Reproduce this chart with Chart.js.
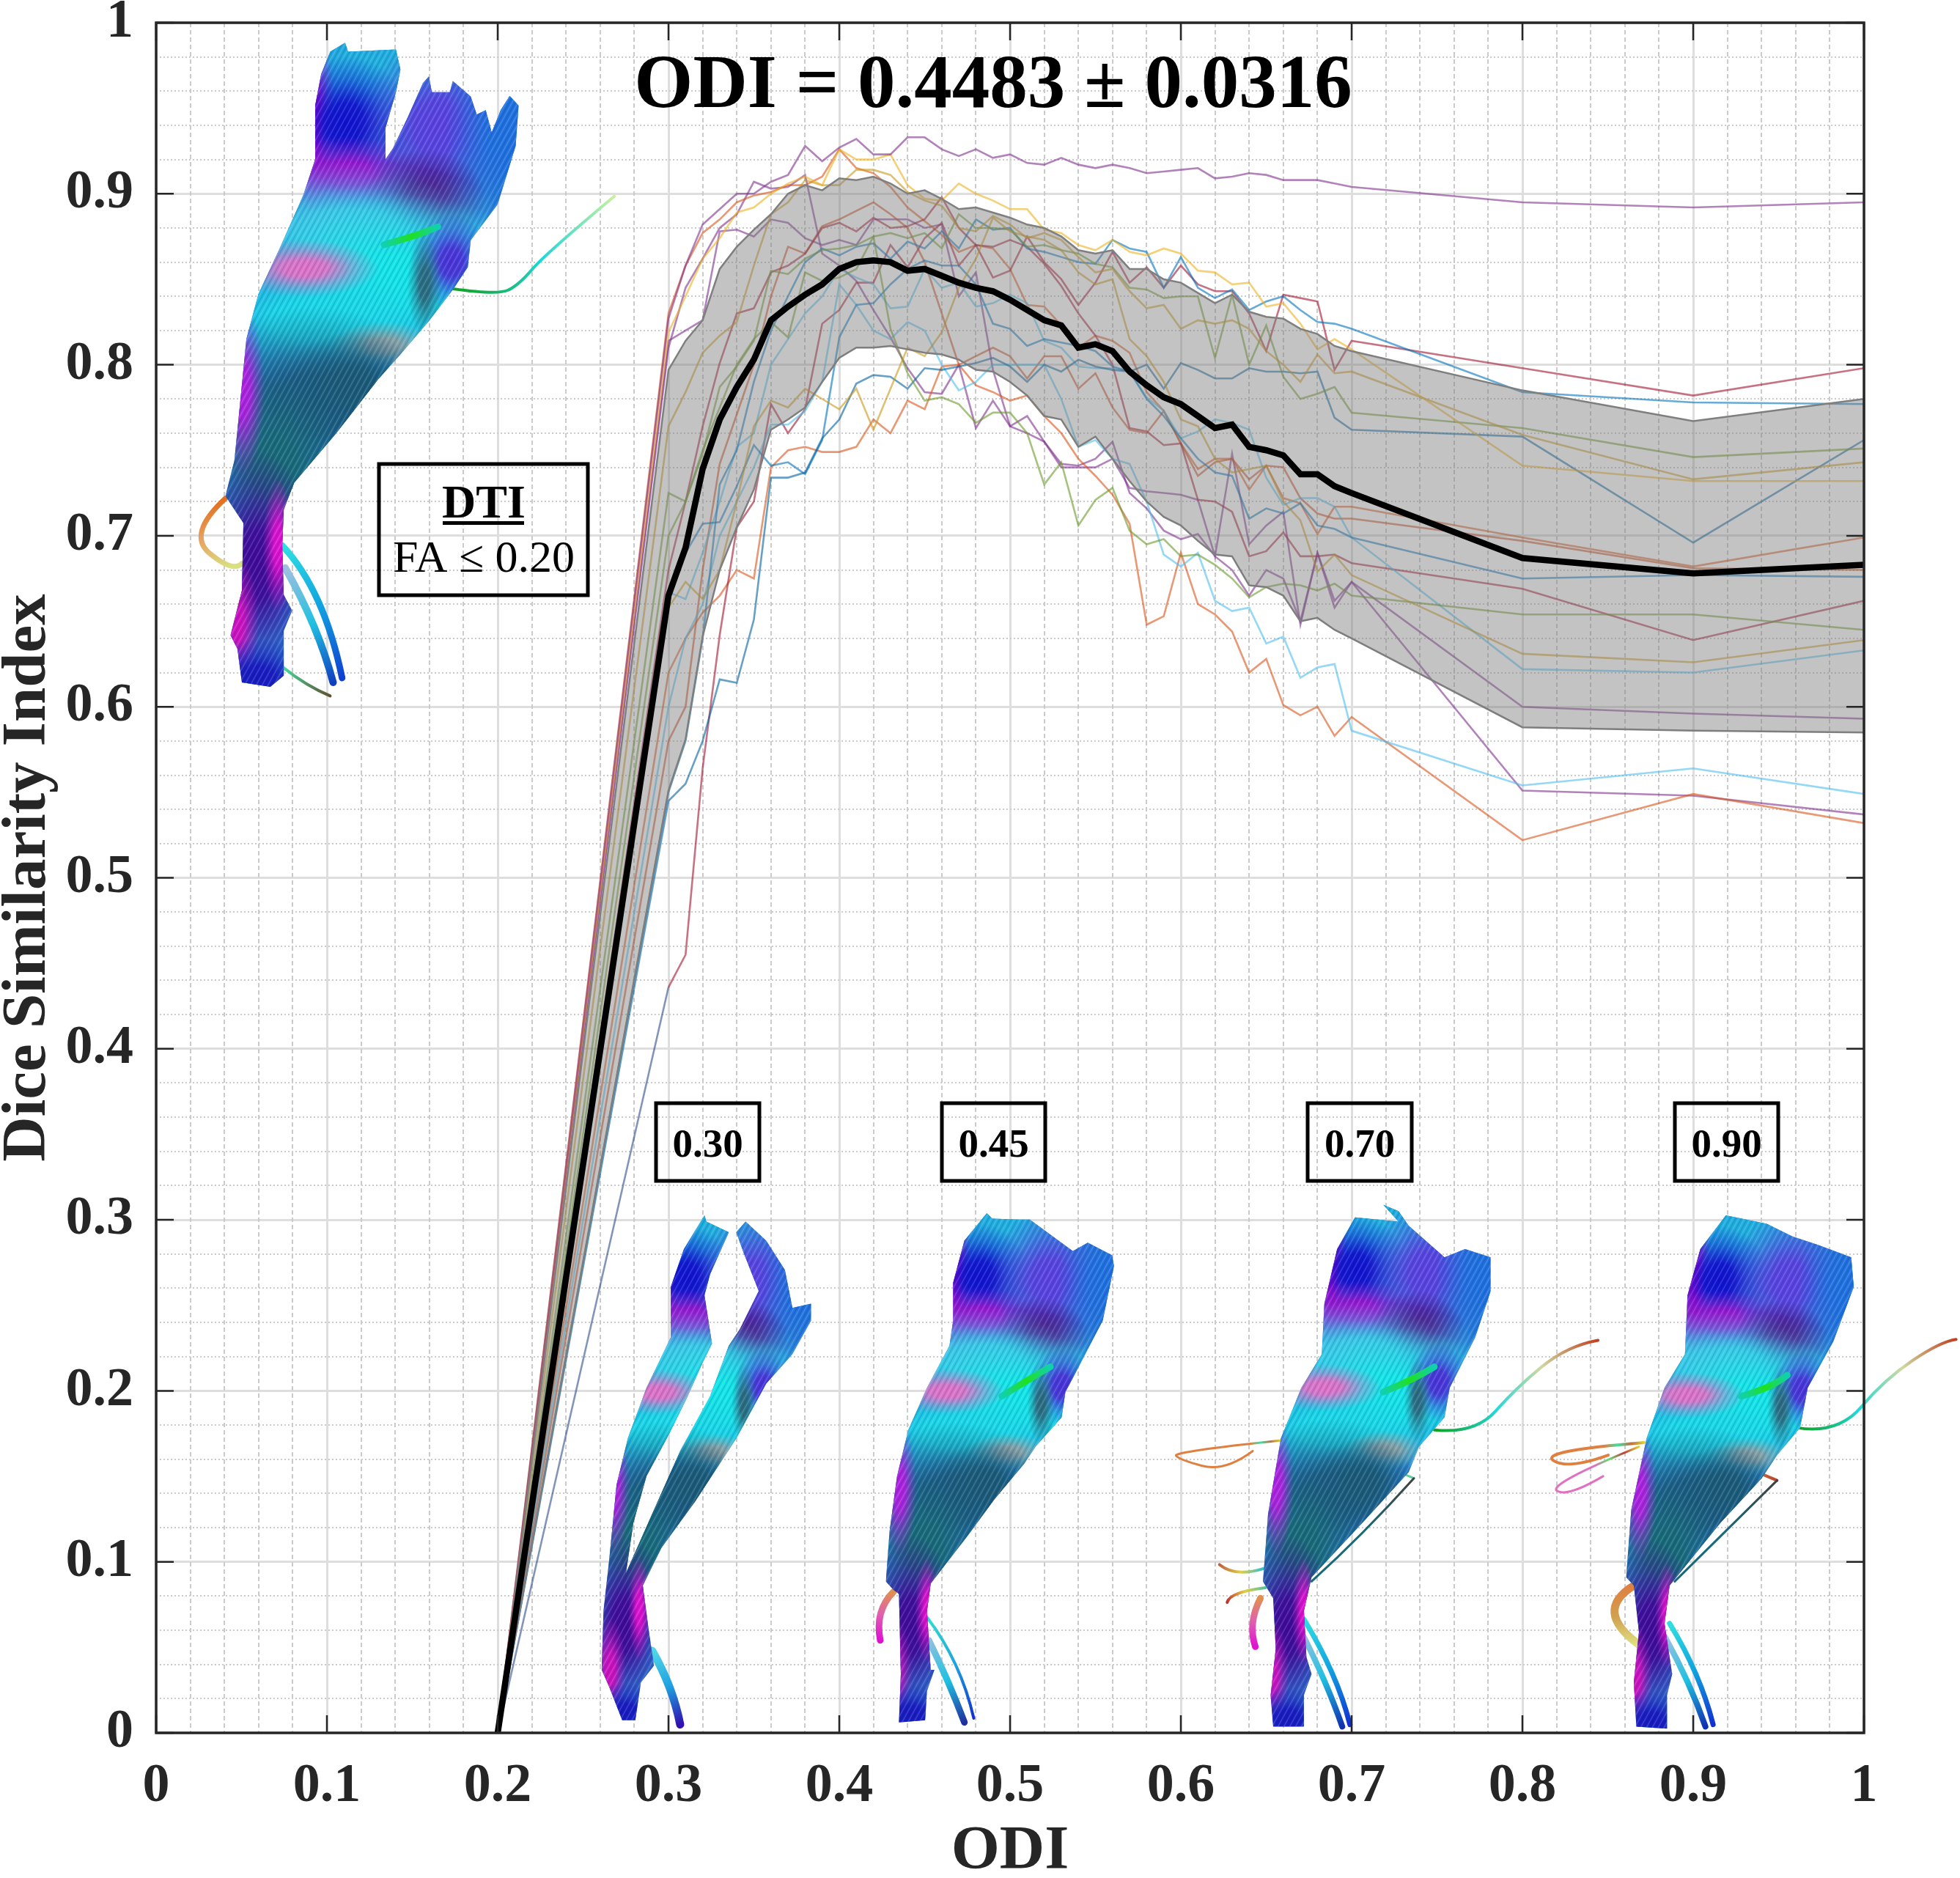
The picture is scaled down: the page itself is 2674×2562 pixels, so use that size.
<!DOCTYPE html>
<html><head><meta charset="utf-8">
<style>html,body{margin:0;padding:0;background:#fff}canvas{display:block}</style>
<script src="https://cdn.jsdelivr.net/npm/chart.js@4"></script>
</head><body><canvas id="c" width="2674" height="2562"></canvas>
<script>
const odi=[0.2,0.3,0.31,0.32,0.33,0.34,0.35,0.36,0.37,0.38,0.39,0.4,0.41,0.42,0.43,0.44,0.45,0.46,0.47,0.48,0.49,0.5,0.51,0.52,0.53,0.54,0.55,0.56,0.57,0.58,0.59,0.6,0.61,0.62,0.63,0.64,0.65,0.66,0.67,0.68,0.69,0.7,0.8,0.9,1.0];
const xTickLabels=['0','0.1','0.2','0.3','0.4','0.5','0.6','0.7','0.8','0.9','1'];
const yTickLabels=['0','0.1','0.2','0.3','0.4','0.5','0.6','0.7','0.8','0.9','1'];
const meanDice=[0,.665,.693,.739,.768,.787,.803,.826,.834,.841,.847,.856,.86,.861,.86,.855,.856,.852,.848,.845,.843,.838,.832,.826,.823,.81,.812,.808,.796,.788,.781,.777,.77,.763,.765,.752,.75,.747,.736,.736,.729,.725,.687,.678,.683];
const upperDice=[0,.797,.814,.826,.856,.869,.879,.888,.9,.905,.902,.909,.908,.91,.906,.9,.902,.897,.891,.892,.889,.886,.882,.88,.875,.867,.865,.867,.856,.856,.85,.848,.842,.836,.841,.831,.828,.827,.821,.818,.811,.808,.785,.767,.78];
const lowerDice=[0,.551,.581,.641,.68,.705,.727,.762,.768,.775,.79,.804,.81,.81,.811,.809,.807,.806,.803,.797,.796,.79,.782,.77,.768,.752,.758,.745,.732,.72,.711,.706,.697,.689,.688,.671,.67,.665,.65,.652,.645,.64,.588,.586,.585];
const subjA=[0,.827,.858,.882,.891,.9,.9,.907,.911,.928,.919,.927,.932,.923,.923,.933,.933,.926,.922,.926,.921,.923,.918,.917,.921,.917,.915,.917,.915,.912,.913,.914,.915,.909,.91,.912,.911,.908,.908,.908,.906,.904,.895,.892,.895];
const subjB=[0,.819,.84,.862,.874,.889,.892,.9,.906,.91,.905,.926,.92,.92,.923,.905,.897,.896,.906,.9,.896,.891,.891,.879,.877,.87,.867,.873,.866,.864,.868,.865,.855,.854,.847,.848,.834,.836,.824,.809,.815,.809,.741,.732,.732];
const subjC=[0,.764,.784,.807,.817,.825,.858,.888,.895,.908,.905,.905,.914,.914,.911,.901,.896,.893,.88,.878,.887,.882,.874,.877,.873,.863,.854,.856,.843,.833,.835,.821,.826,.824,.826,.821,.808,.8,.79,.806,.795,.796,.759,.733,.743];
const subjD=[0,.658,.673,.663,.68,.72,.764,.779,.775,.786,.78,.774,.786,.762,.786,.81,.805,.819,.845,.862,.886,.878,.875,.873,.867,.854,.847,.85,.815,.805,.79,.768,.764,.745,.737,.739,.741,.72,.709,.679,.689,.677,.631,.626,.639];
const subjE=[0,.725,.72,.748,.787,.799,.814,.855,.853,.862,.867,.868,.87,.875,.877,.874,.877,.868,.888,.88,.88,.879,.869,.87,.867,.865,.859,.857,.845,.844,.839,.84,.84,.804,.841,.8,.823,.793,.78,.783,.787,.772,.763,.746,.751];
const subjF=[0,.7,.72,.75,.775,.8,.815,.825,.816,.854,.849,.851,.856,.875,.821,.795,.779,.781,.777,.766,.772,.772,.76,.73,.743,.706,.721,.728,.703,.695,.698,.688,.689,.683,.675,.664,.67,.672,.671,.668,.672,.665,.654,.654,.645];
const subjG=[0,.55,.58,.64,.73,.75,.79,.82,.84,.86,.868,.864,.869,.871,.862,.872,.868,.878,.868,.885,.879,.88,.868,.866,.863,.86,.859,.873,.868,.866,.845,.863,.845,.839,.844,.832,.837,.84,.832,.825,.824,.821,.784,.778,.777];
const subjH=[0,.545,.555,.58,.616,.614,.651,.734,.734,.737,.757,.768,.789,.794,.793,.786,.798,.797,.799,.801,.804,.799,.79,.8,.796,.803,.799,.797,.796,.8,.786,.801,.797,.792,.792,.798,.796,.796,.795,.796,.769,.762,.758,.696,.756];
const subjI=[0,.665,.69,.707,.708,.729,.753,.741,.743,.736,.756,.816,.835,.836,.847,.856,.861,.858,.858,.847,.824,.821,.811,.815,.813,.811,.808,.799,.796,.78,.77,.757,.745,.737,.735,.71,.716,.713,.719,.706,.704,.699,.675,.677,.676];
const subjJ=[0,.667,.663,.69,.72,.752,.76,.8,.815,.83,.84,.856,.851,.847,.833,.834,.856,.845,.848,.834,.836,.841,.836,.814,.81,.799,.798,.798,.796,.781,.773,.757,.761,.768,.766,.762,.734,.718,.722,.722,.717,.699,.622,.62,.633];
const subjK=[0,.6,.64,.66,.7,.72,.74,.765,.765,.773,.79,.847,.835,.82,.815,.825,.82,.8,.785,.79,.8,.8,.8,.8,.78,.752,.756,.745,.742,.72,.689,.682,.69,.662,.656,.658,.637,.641,.617,.623,.625,.586,.554,.564,.549];
const subjL=[0,.68,.72,.764,.801,.83,.833,.854,.858,.865,.88,.883,.878,.886,.88,.881,.885,.898,.88,.87,.851,.855,.875,.86,.85,.835,.848,.866,.848,.857,.845,.858,.847,.843,.843,.83,.808,.841,.839,.837,.797,.814,.798,.782,.798];
const subjM=[0,.436,.455,.564,.642,.705,.72,.777,.76,.774,.824,.832,.848,.848,.87,.857,.874,.883,.858,.87,.869,.873,.869,.859,.846,.83,.817,.8,.763,.761,.753,.754,.721,.72,.714,.688,.691,.702,.688,.688,.689,.684,.669,.639,.662];
const subjN=[0,.62,.64,.655,.665,.68,.675,.74,.75,.752,.749,.749,.752,.768,.76,.779,.774,.799,.8,.788,.784,.779,.782,.77,.76,.745,.735,.724,.707,.648,.653,.69,.66,.654,.644,.62,.628,.601,.595,.6,.583,.594,.522,.549,.532];
const subjO=[0,.83,.858,.877,.885,.895,.899,.901,.905,.905,.91,.926,.915,.912,.904,.892,.884,.876,.866,.87,.868,.856,.835,.834,.823,.81,.817,.814,.807,.784,.773,.754,.739,.745,.745,.727,.741,.722,.719,.701,.717,.717,.699,.682,.699];
const subjP=[0,.58,.6,.68,.742,.771,.8,.84,.869,.865,.881,.885,.89,.895,.888,.88,.86,.83,.8,.805,.81,.805,.792,.805,.805,.786,.795,.775,.762,.76,.773,.754,.735,.743,.745,.733,.741,.74,.722,.713,.71,.71,.697,.681,.68];
const subjQ=[0,.814,.82,.826,.878,.879,.875,.885,.883,.874,.87,.873,.87,.885,.885,.885,.88,.882,.84,.854,.797,.764,.76,.755,.74,.74,.74,.745,.728,.726,.725,.724,.721,.688,.748,.695,.706,.714,.648,.69,.658,.673,.6,.596,.593];
const subjR=[0,.81,.845,.862,.88,.888,.907,.903,.904,.911,.865,.858,.849,.832,.816,.798,.784,.783,.8,.763,.779,.764,.77,.755,.742,.741,.745,.755,.725,.716,.703,.698,.701,.688,.68,.665,.68,.675,.65,.69,.662,.673,.551,.548,.537];
const subjects=[subjA,subjB,subjC,subjD,subjE,subjF,subjG,subjH,subjI,subjJ,subjK,subjL,subjM,subjN,subjO,subjP,subjQ,subjR];
const subjectColors=['#7E2F8E','#EDB120','#C9981A','#C9981A','#6B9A2A','#6B9A2A','#0072BD','#00609F','#0072BD','#4DBEEE','#4DBEEE','#A2142F','#A2142F','#D95319','#D95319','#C8481A','#7E2F8E','#7E2F8E'];
const titleText='ODI = 0.4483 \u00B1 0.0316';
const boxLabels=['0.30','0.45','0.70','0.90'];
const xAxisTitle='ODI', yAxisTitle='Dice Similarity Index';

const pts=a=>a.map((v,i)=>({x:odi[i],y:v}));
const serif='"Liberation Serif"';
const ink='#262626';
const datasets=[];
datasets.push({data:pts(meanDice),borderColor:'#000',borderWidth:8.5,pointRadius:0,tension:0,order:1,borderJoinStyle:'miter',fill:false});
datasets.push({data:pts(upperDice),borderColor:'#7f7f7f',borderWidth:2.5,pointRadius:0,tension:0,order:2,fill:'+1',backgroundColor:'rgba(125,125,125,.46)'});
datasets.push({data:pts(lowerDice),borderColor:'#7f7f7f',borderWidth:2.5,pointRadius:0,tension:0,order:2,fill:false});
subjects.forEach((s,i)=>datasets.push({data:pts(s),borderColor:subjectColors[i]+'99',borderWidth:2.6,pointRadius:0,tension:0,order:3,fill:false,
  segment:s===subjM?{borderColor:c=>c.p0DataIndex===0?'#2f4f8a99':undefined}:undefined}));

// ---- fibre bundle illustrations (decoration, page pixels) ----
const blobs=[[.5,.04,.28,.08,'#1fb0e0'],[.3,.12,.05,.1,'#d000d0'],[.41,.125,.15,.07,'#1010d0'],[.42,.205,.2,.04,'#a010d0'],[.72,.13,.18,.09,'#5a40e0'],[.96,.14,.14,.11,'#1f70e0'],[.68,.24,.14,.05,'#500080'],[.42,.29,.38,.07,'#40c8e8'],[.57,.37,.36,.09,'#10e8e8'],[.32,.43,.36,.07,'#18d8e8'],[.27,.35,.17,.03,'#e070c8'],[.77,.34,.09,.05,'#4a30d8'],[.68,.375,.04,.055,'#2a6a80'],[.54,.47,.12,.025,'#9aa8a8'],[.3,.56,.3,.1,'#1a5a80'],[.17,.66,.17,.1,'#186a78'],[.44,.53,.15,.055,'#1a5a78'],[.06,.54,.05,.09,'#b020e0'],[.11,.81,.14,.12,'#400898'],[.18,.78,.035,.07,'#e010d0'],[.04,.9,.05,.07,'#d010c0'],[.11,.985,.13,.04,'#1818c0']];
const sketches=[
 {map:[230,40,2.45,1.633],outline:[[540,50],[590,30],[600,50],[760,45],[775,90],[760,140],[725,220],[725,290],[750,265],[800,195],[850,120],[870,105],[880,140],[940,140],[950,115],[1010,150],[1030,190],[1060,180],[1080,230],[1110,180],[1140,148],[1170,170],[1160,260],[1100,390],[1010,470],[1000,530],[950,580],[870,650],[780,720],[700,780],[560,900],[420,1010],[385,1070],[380,1150],[385,1260],[413,1295],[385,1340],[385,1440],[340,1465],[245,1455],[230,1380],[207,1350],[245,1250],[250,1100],[190,1040],[220,960],[235,860],[260,690],[300,590],[370,490],[450,370],[490,290],[490,170],[510,100]],
  tails:[[[[950,578],[1100,592],[1170,570],[1260,500],[1490,372]],4,['#10a020','#20d8d8','#c8f0a0']],[[[190,1045],[60,1125],[215,1210],[245,1190]],7,['#e07020','#e8a060','#d8e080']],[[[380,1150],[520,1250],[580,1445]],9,['#30e0e0','#10a0e0','#1040d0']],[[[390,1200],[500,1330],[550,1455]],10,['#a0c0e0','#20c0e0','#1040c0']],[[[250,1330],[380,1440],[540,1485]],4,['#30a080','#40e0a0','#605030']]],green:[[720,480],[830,460],[900,440]]},
 {map:[780,1480,1.96,1.742],outline:[[355,310],[360,325],[420,350],[370,450],[355,500],[375,615],[350,660],[310,740],[260,830],[200,930],[165,1040],[145,1160],[250,950],[290,870],[370,740],[420,620],[450,580],[500,490],[460,400],[440,350],[465,325],[520,370],[570,440],[590,530],[640,520],[640,560],[590,640],[520,710],[440,840],[330,990],[240,1100],[190,1190],[205,1290],[220,1380],[185,1420],[170,1510],[135,1510],[100,1430],[80,1390],[85,1250],[100,1130],[120,950],[150,840],[200,720],[265,600],[265,480],[300,390]],
  tails:[[[[215,1345],[270,1430],[290,1520]],11,['#50d8e8','#20a0e0','#3010b0']]]},
 {map:[780,1480,1.96,1.742],outline:[[1110,305],[1125,318],[1195,320],[1225,320],[1340,395],[1380,375],[1445,405],[1450,430],[1420,560],[1350,680],[1320,730],[1310,790],[1240,860],[1210,900],[1130,985],[1060,1070],[960,1185],[950,1250],[960,1390],[970,1390],[950,1440],[945,1510],[875,1515],[880,1400],[875,1210],[860,1200],[840,1180],[850,1060],[870,930],[900,820],[950,720],[1010,620],[1020,560],[1020,470],[1050,370]],
  tails:[[[[860,1205],[810,1250],[825,1320]],9,['#e09050','#e060b0','#e010d0']],[[[950,1265],[1040,1370],[1075,1505]],4,['#30e0d0','#20a0e0','#1030d0']],[[[955,1320],[1010,1420],[1050,1515]],9,['#90c0e0','#20c0e0','#2030a0']]],green:[[1150,740],[1230,695],[1280,670]]},
 {map:[1580,1480,1.433,1.742],outline:[[385,315],[470,325],[440,285],[470,300],[490,335],[560,410],[600,390],[650,410],[650,490],[620,600],[570,720],[560,790],[510,860],[490,920],[400,1040],[300,1170],[285,1250],[290,1360],[300,1400],[285,1450],[285,1525],[225,1525],[220,1450],[230,1340],[225,1220],[205,1180],[215,1020],[240,840],[280,720],[320,640],[325,520],[350,390]],
  tails:[[[[540,820],[620,830],[700,720],[800,620],[860,607]],4,['#10a020','#20d8d8','#d0d8a0','#c04020']],[[[240,845],[30,872],[40,890],[130,920],[185,870]],3,['#e0d030','#c07040','#40e0a0','#e08040']],[[[250,860],[400,880],[500,935]],3,['#80d040','#e0d030','#50d0a0']],[[[285,1270],[350,1400],[375,1520]],7,['#30e0e0','#10a0e0','#1030d0']],[[[280,1300],[330,1420],[360,1525]],8,['#a0c0e0','#20c0e0','#1030b0']],[[[200,1220],[175,1280],[190,1335]],9,['#e09050','#e060b0','#e010d0']],[[[205,1150],[150,1170],[120,1140]],4,['#30c0d0','#e0d040','#c06040']],[[[210,1195],[140,1205],[135,1230]],4,['#50c0a0','#e0d040','#c03030']],[[[500,935],[400,1070],[300,1180]],3,['#404040','#186a78','#186a78']]],green:[[440,730],[500,700],[540,670]]},
 {map:[1580,1480,1.433,1.742],outline:[[1110,310],[1190,330],[1240,360],[1290,380],[1355,410],[1360,480],[1320,610],[1270,720],[1255,815],[1210,880],[1180,935],[1100,1040],[1000,1190],[990,1280],[1005,1400],[995,1450],[995,1530],[935,1525],[930,1420],[940,1300],[930,1190],[915,1170],[925,1010],[955,840],[990,720],[1030,640],[1035,500],[1060,390]],
  tails:[[[[1250,815],[1330,830],[1420,700],[1530,610],[1560,605]],4,['#10a020','#20d8d8','#d0d8a0','#c04020']],[[[950,850],[745,870],[800,915],[880,880]],4,['#e0d030','#c07040','#40e0a0','#e08040']],[[[940,860],[760,950],[800,980],[870,930]],3,['#e0d030','#c04040','#60e070','#e070c0']],[[[955,860],[1100,880],[1210,940]],4,['#80d040','#e0d030','#c04030']],[[[930,1190],[850,1250],[940,1330]],11,['#e08040','#d0a050','#e0e080']],[[[1000,1280],[1060,1400],[1085,1520]],7,['#30e0e0','#10a0e0','#1030d0']],[[[990,1310],[1040,1420],[1070,1525]],8,['#a0c0e0','#20c0e0','#1030b0']],[[[1210,940],[1110,1060],[1010,1180]],3,['#404040','#186a78','#186a78']]],green:[[1140,740],[1200,720],[1230,690]]}
];
function strokeTail(ctx,q,w,cols){
  const g=ctx.createLinearGradient(q[0][0],q[0][1],q[q.length-1][0],q[q.length-1][1]);
  cols.forEach((c,i)=>g.addColorStop(i/(cols.length-1),c));
  ctx.save();ctx.strokeStyle=g;ctx.lineWidth=w;ctx.lineCap='round';ctx.lineJoin='round';ctx.beginPath();ctx.moveTo(q[0][0],q[0][1]);
  for(let i=1;i<q.length-1;i++){const last=i==q.length-2,ex=last?q[i+1][0]:(q[i][0]+q[i+1][0])/2,ey=last?q[i+1][1]:(q[i][1]+q[i+1][1])/2;ctx.quadraticCurveTo(q[i][0],q[i][1],ex,ey);}
  ctx.stroke();ctx.restore();
}
function drawSketch(ctx,sk){
  const [ox,oy,fx,fy]=sk.map; const P=p=>[ox+p[0]/fx,oy+p[1]/fy];
  const out=sk.outline.map(P);
  const xs=out.map(p=>p[0]),ys=out.map(p=>p[1]);
  const x0=Math.min(...xs),x1=Math.max(...xs),y0=Math.min(...ys),y1=Math.max(...ys),w=x1-x0,h=y1-y0;
  sk.tails.forEach(t=>strokeTail(ctx,t[0].map(P),t[1],t[2]));
  ctx.save();ctx.beginPath();out.forEach((p,i)=>i?ctx.lineTo(p[0],p[1]):ctx.moveTo(p[0],p[1]));ctx.closePath();ctx.clip();
  ctx.fillStyle='#2a80d8';ctx.fillRect(x0,y0,w,h);
  blobs.forEach(b=>{
    const cx=x0+b[0]*w,cy=y0+b[1]*h,rx=b[2]*w*1.5,ry=b[3]*h*1.5;
    ctx.save();ctx.translate(cx,cy);ctx.scale(rx,ry);
    const g=ctx.createRadialGradient(0,0,0,0,0,1);g.addColorStop(0,b[4]);g.addColorStop(.3,b[4]+'ee');g.addColorStop(.65,b[4]+'66');g.addColorStop(1,b[4]+'00');
    ctx.fillStyle=g;ctx.beginPath();ctx.arc(0,0,1,0,7);ctx.fill();ctx.restore();
  });
  ctx.lineWidth=1.5;
  for(let i=0;i*4<w+h;i++){ctx.strokeStyle=i%2?'rgba(255,255,255,.16)':'rgba(0,30,60,.14)';ctx.beginPath();ctx.moveTo(x0+i*4-h*.55,y1);ctx.lineTo(x0+i*4,y0);ctx.stroke();}
  ctx.restore();
  if(sk.green)strokeTail(ctx,sk.green.map(P),9,['#10d0b0','#20e020','#10d0b0']);
}
const overlay={id:'overlay',afterDatasetsDraw(chart){
  const {ctx,chartArea:a,scales:{x,y}}=chart;
  ctx.save();
  sketches.forEach(s=>drawSketch(ctx,s));
  ctx.strokeStyle=ink;ctx.lineWidth=2.5;
  for(let i=0;i<=10;i++){const px=x.getPixelForValue(i/10),py=y.getPixelForValue(i/10);
    ctx.beginPath();ctx.moveTo(px,a.bottom);ctx.lineTo(px,a.bottom-24);ctx.moveTo(px,a.top);ctx.lineTo(px,a.top+24);
    ctx.moveTo(a.left,py);ctx.lineTo(a.left+24,py);ctx.moveTo(a.right,py);ctx.lineTo(a.right-24,py);ctx.stroke();}
  ctx.lineWidth=3.5;ctx.strokeRect(a.left,a.top,a.right-a.left,a.bottom-a.top);
  ctx.fillStyle='#000';ctx.textAlign='center';ctx.textBaseline='alphabetic';
  ctx.font='bold 103px '+serif;ctx.fillText(titleText,1355,146);
  ctx.strokeStyle='#000';ctx.lineWidth=5;ctx.strokeRect(517,633,285,179);
  ctx.font='bold 64px '+serif;ctx.fillText('DTI',660,706);ctx.fillRect(604,711,111,5);
  ctx.font='62px '+serif;ctx.fillText('FA \u2264 0.20',660,780);
  [[895,1036],[1285,1426],[1784,1926],[2285,2426]].forEach((b,i)=>{
    ctx.strokeRect(b[0],1505,b[1]-b[0],106);
    ctx.font='bold 55px '+serif;ctx.fillText(boxLabels[i],(b[0]+b[1])/2,1578);
  });
  ctx.restore();
}};
const bg={id:'bg',beforeDraw(c){c.ctx.save();c.ctx.fillStyle='#fff';c.ctx.fillRect(0,0,c.width,c.height);c.ctx.restore();}};
const tickFont={family:serif,size:74,weight:'bold',lineHeight:1.2};
const titleFont={family:serif,size:85,weight:'bold',lineHeight:.5};
const minorColor=ctx=>{const v=Math.round(ctx.tick.value*100);return v%10===0?'rgba(0,0,0,0)':'#cbcbcb';};
const noPad=s=>{s.paddingTop=0;s.paddingBottom=0;s.paddingLeft=0;s.paddingRight=0;};
new Chart(document.getElementById('c'),{type:'line',data:{datasets},plugins:[bg,overlay],options:{
  responsive:false,animation:false,devicePixelRatio:1,
  layout:{autoPadding:false,padding:{top:31,right:131,left:0,bottom:0}},
  plugins:{legend:{display:false},tooltip:{enabled:false},title:{display:false}},
  scales:{
    x:{type:'linear',position:'bottom',min:0,max:1,afterFit:s=>{s.height=198;noPad(s);},
       ticks:{stepSize:.1,autoSkip:false,maxRotation:0,padding:29,color:ink,font:tickFont,callback:(v,i)=>xTickLabels[i]},
       grid:{color:'#dedede',lineWidth:3,drawTicks:false},border:{display:false},
       title:{display:true,text:xAxisTitle,color:ink,font:titleFont,padding:{top:0,bottom:14}}},
    y:{type:'linear',position:'left',min:0,max:1,afterFit:s=>{s.width=213;noPad(s);},
       ticks:{stepSize:.1,autoSkip:false,padding:31,color:ink,font:tickFont,callback:(v,i)=>yTickLabels[i]},
       grid:{color:'#dedede',lineWidth:3,drawTicks:false},border:{display:false},
       title:{display:true,text:yAxisTitle,color:ink,font:titleFont,padding:{top:18,bottom:0}}},
    xMinor:{type:'linear',position:'bottom',min:0,max:1,afterFit:s=>{s.height=0;noPad(s);},
       ticks:{display:false,stepSize:.02,autoSkip:false},grid:{color:minorColor,lineWidth:2,drawTicks:false},border:{display:false,dash:[6,4]}},
    yMinor:{type:'linear',position:'left',min:0,max:1,afterFit:s=>{s.width=0;noPad(s);},
       ticks:{display:false,stepSize:.02,autoSkip:false},grid:{color:minorColor,lineWidth:2,drawTicks:false},border:{display:false,dash:[2,3]}}
  }
}});
</script>
</body></html>
